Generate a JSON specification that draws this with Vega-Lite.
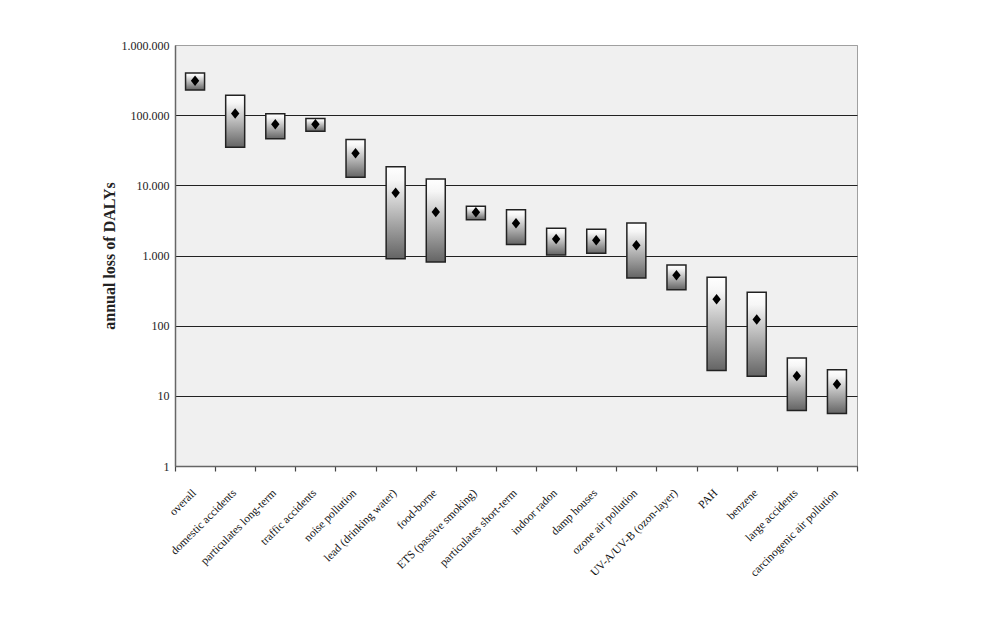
{
  "$schema": "https://vega.github.io/schema/vega-lite/v6.json",
  "width": 682,
  "height": 421,
  "autosize": {"type": "none"},
  "padding": {"left": 175, "top": 45, "right": 124, "bottom": 157},
  "background": "white",
  "config": {
    "locale": {"number": {"decimal": ",", "thousands": ".", "grouping": [3], "currency": ["", " €"]}},
    "view": {"fill": "#f0f0f0", "stroke": "#a0a0a0", "strokeWidth": 1}
  },
  "data": {
    "values": [
      {"cat": "overall", "low": 228000, "high": 400000, "est": 310000},
      {"cat": "domestic accidents", "low": 35000, "high": 192000, "est": 106000},
      {"cat": "particulates long-term", "low": 46000, "high": 105000, "est": 74000},
      {"cat": "traffic accidents", "low": 59000, "high": 90000, "est": 74000},
      {"cat": "noise pollution", "low": 13000, "high": 45000, "est": 28600},
      {"cat": "lead (drinking water)", "low": 900, "high": 18400, "est": 7850},
      {"cat": "food-borne", "low": 810, "high": 12300, "est": 4170},
      {"cat": "ETS (passive smoking)", "low": 3240, "high": 5020, "est": 4120},
      {"cat": "particulates short-term", "low": 1440, "high": 4500, "est": 2880},
      {"cat": "indoor radon", "low": 1020, "high": 2440, "est": 1720},
      {"cat": "damp houses", "low": 1075, "high": 2360, "est": 1650},
      {"cat": "ozone air pollution", "low": 478, "high": 2900, "est": 1400},
      {"cat": "UV-A/UV-B (ozon-layer)", "low": 326, "high": 732, "est": 522},
      {"cat": "PAH", "low": 23, "high": 490, "est": 238},
      {"cat": "benzene", "low": 19, "high": 300, "est": 122},
      {"cat": "large accidents", "low": 6.2, "high": 34.6, "est": 19.2},
      {"cat": "carcinogenic air pollution", "low": 5.6, "high": 23.6, "est": 14.6}
    ]
  },
  "encoding": {
    "x": {
      "field": "cat",
      "type": "nominal",
      "sort": null,
      "scale": {"paddingInner": 0, "paddingOuter": 0},
      "axis": {
        "title": null,
        "labelAngle": -45,
        "labelAlign": "right",
        "labelBaseline": "middle",
        "labelFont": "Liberation Serif",
        "labelFontSize": 11.5,
        "labelColor": "#111",
        "labelPadding": 20,
        "labelOffset": -1,
        "tickBand": "extent",
        "tickSize": 5,
        "tickColor": "#444",
        "tickWidth": 1.2,
        "domainColor": "#666",
        "domainWidth": 1.5,
        "grid": false
      }
    }
  },
  "layer": [
    {
      "mark": {
        "type": "bar",
        "size": 19,
        "stroke": "#222",
        "strokeWidth": 1.5,
        "fill": {
          "gradient": "linear",
          "x1": 0, "y1": 0, "x2": 0, "y2": 1,
          "stops": [
            {"offset": 0, "color": "#ffffff"},
            {"offset": 0.15, "color": "#f6f6f6"},
            {"offset": 1, "color": "#646464"}
          ]
        }
      },
      "encoding": {
        "y": {
          "field": "low",
          "type": "quantitative",
          "scale": {"type": "log", "domain": [1, 1000000], "nice": false},
          "axis": {
            "values": [1, 10, 100, 1000, 10000, 100000, 1000000],
            "format": ",d",
            "grid": true,
            "gridColor": {"condition": {"test": "datum.value >= 1000000", "value": "#a0a0a0"}, "value": "#222"},
            "gridWidth": 1.2,
            "ticks": false,
            "domainColor": "#666",
            "domainWidth": 1.5,
            "labelFont": "Liberation Serif",
            "labelFontSize": 12,
            "labelColor": "#222",
            "labelPadding": 6,
            "title": "annual loss of DALYs",
            "titleFont": "Liberation Serif",
            "titleFontSize": 16,
            "titleFontWeight": "bold",
            "titleColor": "#222",
            "titlePadding": 4
          }
        },
        "y2": {"field": "high"}
      }
    },
    {
      "mark": {
        "type": "point",
        "filled": true,
        "shape": "M0,-1L0.8,0L0,1L-0.8,0Z",
        "size": 110,
        "color": "black",
        "opacity": 1
      },
      "encoding": {
        "y": {"field": "est", "type": "quantitative"}
      }
    }
  ]
}
